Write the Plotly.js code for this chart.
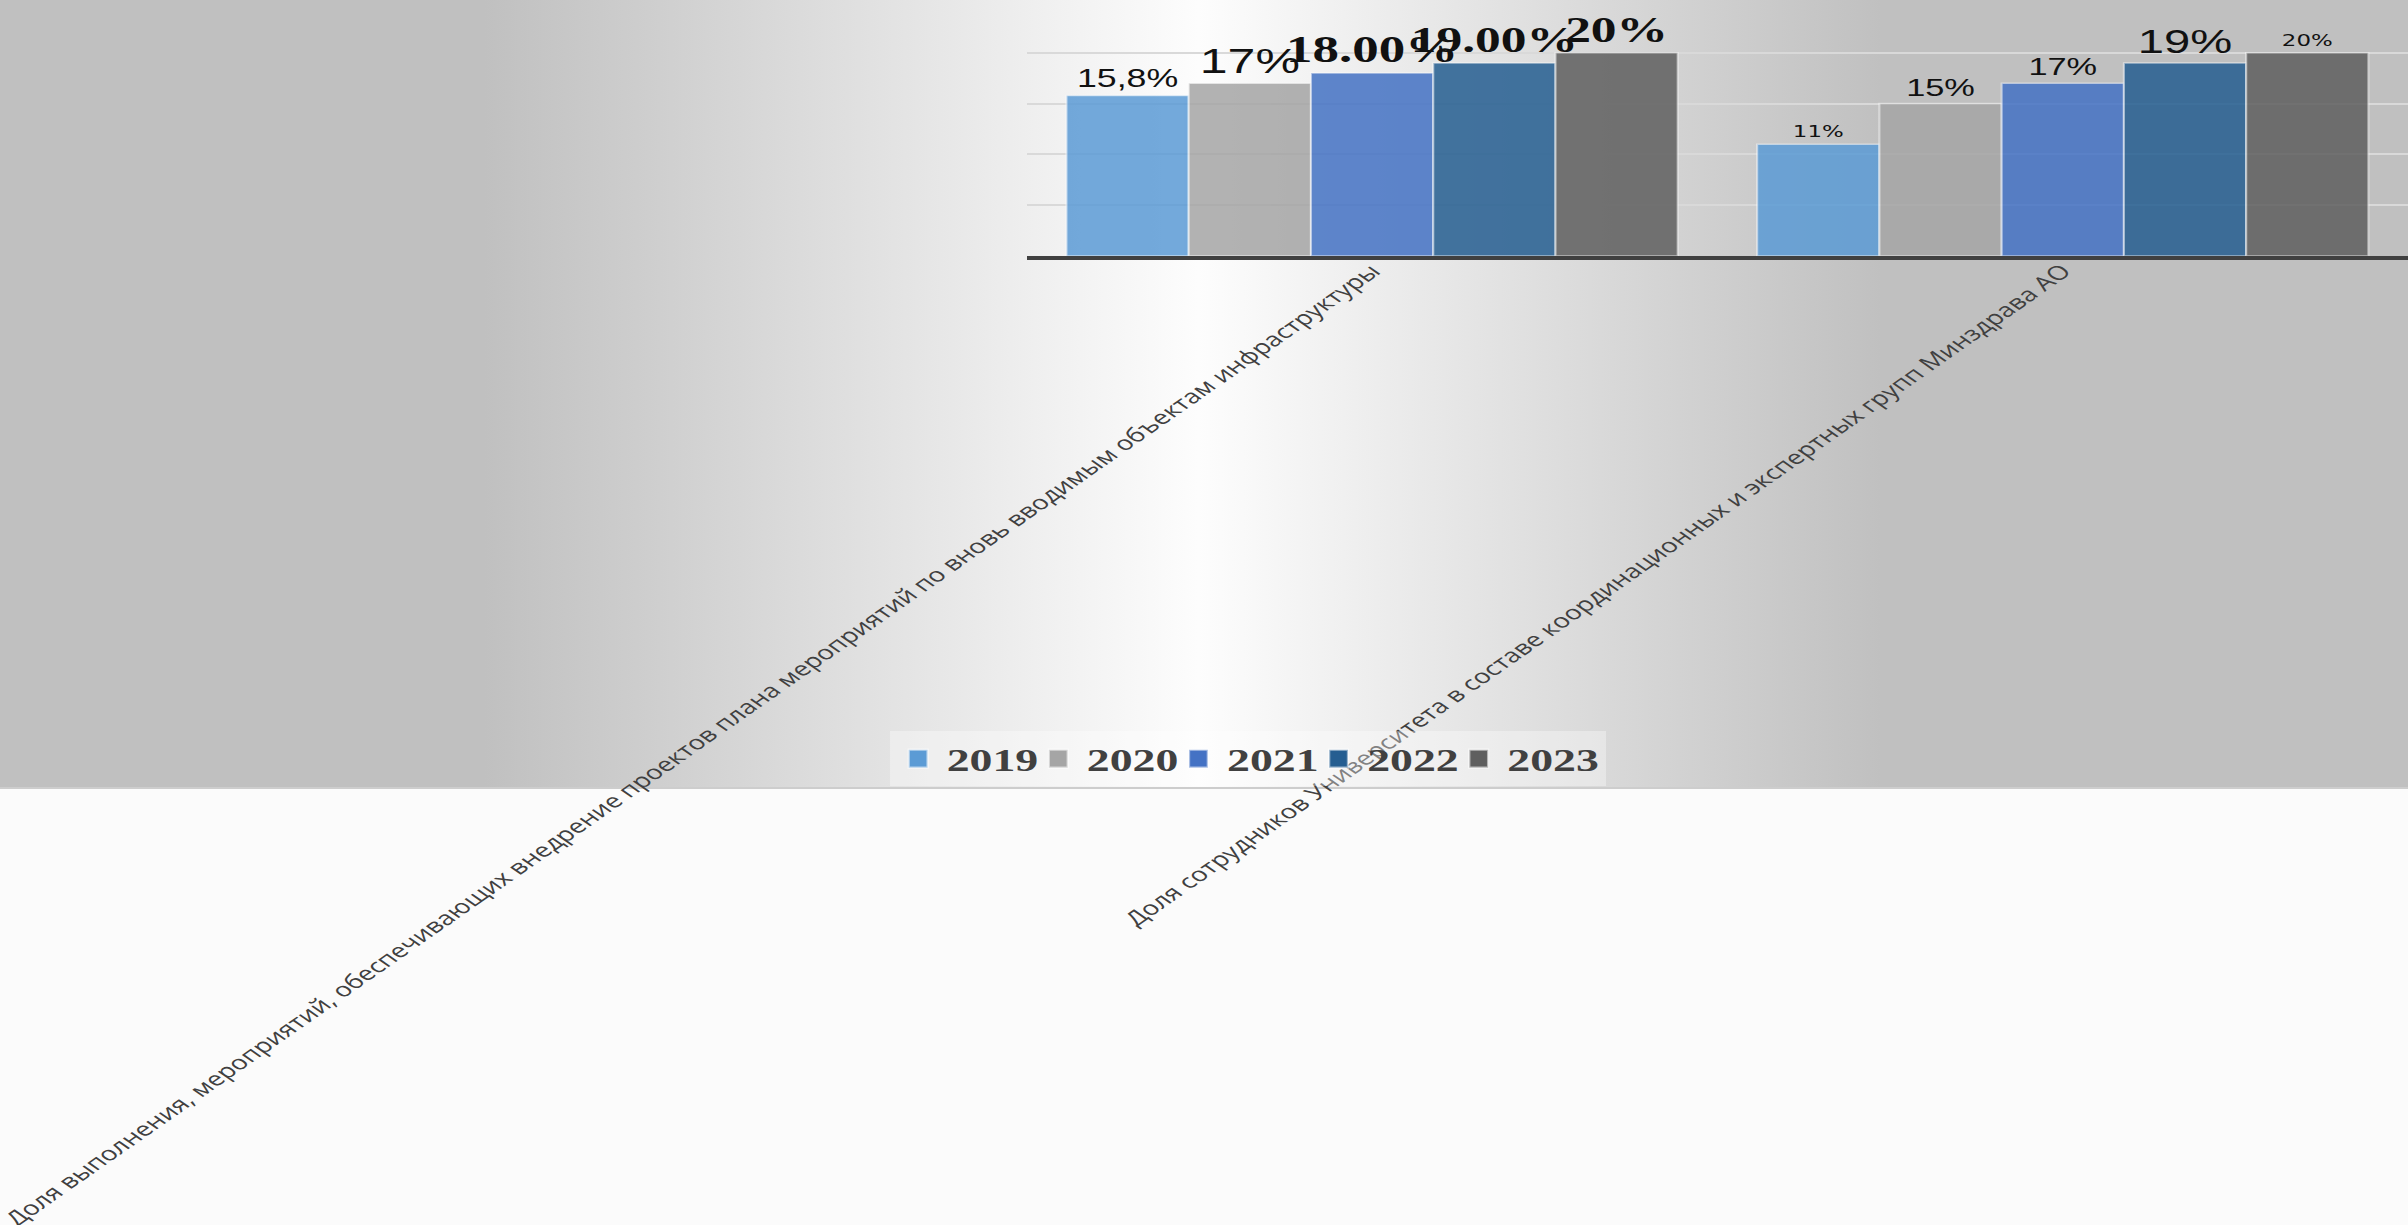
<!DOCTYPE html>
<html>
<head>
<meta charset="utf-8">
<script src="https://cdn.plot.ly/plotly-3.0.1.min.js"></script>
<style>
html,body{margin:0;padding:0;}
body{width:2408px;height:1225px;overflow:hidden;position:relative;background:#fbfbfb;}
#bg{position:absolute;left:0;top:0;width:2408px;height:787px;
 background:linear-gradient(to right,#c0c0c0 0px,#c0c0c0 484px,#fdfdfd 1198px,#c0c0c0 1881px,#c0c0c0 2408px);
 border-bottom:2px solid #cdcdcd;}
#chart{position:absolute;left:0;top:0;width:1684px;height:1225px;transform:scaleX(1.43);transform-origin:0 0;}
</style>
</head>
<body>
<div id="bg"></div>
<div id="chart"></div>
<script>
// ---- data ----
const categories = [
  "Доля выполнения, мероприятий, обеспечивающих внедрение проектов плана мероприятий по вновь вводимым объектам инфраструктуры",
  "Доля сотрудников Университета в составе координационных и экспертных групп Минздрава АО"
];
const years = ["2019", "2020", "2021", "2022", "2023"];
const values2019 = [15.8, 11];
const values2020 = [17, 15];
const values2021 = [18, 17];
const values2022 = [19, 19];
const values2023 = [20, 20];
const labels2019 = ["15,8%", "11%"];
const labels2020 = ["17%", "15%"];
const labels2021 = ["18.00%", "17%"];
const labels2022 = ["19.00%", "19%"];
const labels2023 = ["20%", "20%"];

// ---- style ----
const seriesValues = [values2019, values2020, values2021, values2022, values2023];
const seriesLabels = [labels2019, labels2020, labels2021, labels2022, labels2023];
const colors = ["#5B9BD5", "#A5A5A5", "#4472C4", "#255E91", "#5f5f5f"];
const SANS = "Liberation Sans, Arial, sans-serif";
const SERIF = "Liberation Serif, Times New Roman, serif";
const DEJA = "DejaVu Sans, Verdana, sans-serif";
const labelFamilies = [[SANS, DEJA], [SANS, SANS], [SERIF, SANS], [SERIF, SANS], [SERIF, DEJA]];
const labelSizes = [[25, 16], [35, 24], [37, 24], [36, 33], [36, 16]];
const labelWeights = [["normal", "normal"], ["normal", "normal"], ["bold", "normal"], ["bold", "normal"], ["bold", "normal"]];
const legendWidths = [53, 53, 53, 53, 64];

const traces = years.map((yr, i) => ({
  type: "bar",
  name: yr,
  x: categories,
  y: seriesValues[i],
  text: seriesLabels[i],
  textposition: "outside",
  cliponaxis: false,
  constraintext: "none",
  legendwidth: legendWidths[i],
  textfont: {family: labelFamilies[i], size: labelSizes[i], weight: labelWeights[i], color: "#111111"},
  marker: {color: colors[i], opacity: 0.85, line: {color: "rgba(255,255,255,0.55)", width: 1.5}},
  hoverinfo: "none"
}));

const layout = {
  width: 1684,
  height: 1225,
  margin: {l: 718, r: 0, t: 2, b: 969, pad: 0},
  paper_bgcolor: "rgba(0,0,0,0)",
  plot_bgcolor: "rgba(0,0,0,0)",
  barmode: "group",
  bargap: 0.115,
  bargroupgap: 0,
  showlegend: true,
  legend: {
    orientation: "h",
    x: 0.160, xanchor: "center",
    y: -1.98, yanchor: "middle",
    bgcolor: "rgba(255,255,255,0.35)",
    font: {family: SERIF, size: 32, color: "#404040", weight: "bold"},
    itemwidth: 30,
    traceorder: "normal"
  },
  xaxis: {
    type: "category",
    range: [-0.5, 1.5],
    showgrid: false,
    showline: true,
    linecolor: "#404040",
    linewidth: 4,
    ticks: "",
    tickangle: -45,
    ticklabelstandoff: -8,
    tickfont: {family: "Open Sans, Noto Sans, sans-serif", size: 19.5, color: "#404040"},
    automargin: false
  },
  yaxis: {
    range: [0, 25],
    dtick: 5,
    showgrid: true,
    gridcolor: "#d9d9d9",
    gridwidth: 2,
    zeroline: false,
    showticklabels: false,
    showline: false,
    ticks: "",
    automargin: false
  },
  font: {family: "Open Sans, sans-serif", color: "#404040"}
};

Plotly.newPlot("chart", traces, layout, {displayModeBar: false, staticPlot: true}).then(() => {
  // enlarge legend swatches to match the reference's square keys
  document.querySelectorAll("#chart .legendpoints path").forEach(p => {
    const t = p.getAttribute("transform") || "";
    p.setAttribute("transform", t + " scale(1.1,1.5)");
  });
});
</script>
</body>
</html>
